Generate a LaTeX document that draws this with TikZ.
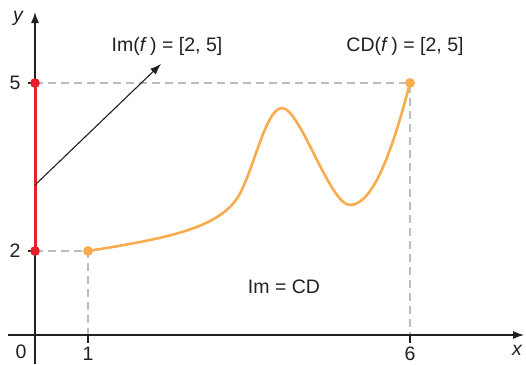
\documentclass[tikz,border=0pt]{standalone}
\usepackage{fontspec}
\setmainfont{Liberation Sans}
\usetikzlibrary{arrows.meta}
\definecolor{curveorange}{HTML}{F9AC4E}
\definecolor{segred}{HTML}{E5202A}
\definecolor{dashgray}{HTML}{BDBDBD}
\definecolor{txt}{HTML}{231F20}
\begin{document}
\begin{tikzpicture}[x=1pt,y=-1pt,
  axis/.style={line width=1.3pt,txt,-{Latex[length=11pt,width=8pt]}},
  guide/.style={dashgray,line width=1.3pt,dash pattern=on 8pt off 5pt},
  lbl/.style={font=\fontsize{19.5}{22}\selectfont,text=txt,inner sep=0pt},
  dotred/.style={circle,fill=segred,minimum size=9.5pt,inner sep=0pt},
  dotorange/.style={circle,fill=curveorange,minimum size=9.5pt,inner sep=0pt}]
\useasboundingbox (0,0) rectangle (526,364);
% coordinates
\coordinate (O) at (35,335);
\coordinate (ytop) at (35,12);
\coordinate (ybot) at (35,364);
\coordinate (xleft) at (8,335);
\coordinate (xright) at (524,335);
\node[dotred] (p5) at (35,83) {};
\node[dotred] (p2) at (35,251) {};
\node[dotorange] (q1) at (88,251) {};
\node[dotorange] (q6) at (410,83) {};
\coordinate (x1) at (88,335);
\coordinate (x6) at (410,335);
% guides
\draw[guide] (p5.center) -- (q6.center) -- (x6);
\draw[guide] (p2.center) -- (q1.center) -- (x1);
% axes
\draw[line width=1.3pt,txt] (ybot) -- (O);
\draw[axis] (O) -- (ytop);
\draw[axis] (xleft) -- (xright);
% ticks
\draw[line width=1.3pt,txt] (x1) -- ++(0,8);
\draw[line width=1.3pt,txt] (x6) -- ++(0,8);
\draw[line width=1.3pt,txt] (p5.center) -- ++(-7,0);
\draw[line width=1.3pt,txt] (p2.center) -- ++(-7,0);
% red segment
\draw[segred,line width=3pt] (p5.center) -- (p2.center);
\node[dotred] at (p5) {};
\node[dotred] at (p2) {};
% curve
\draw[curveorange,line width=2.6pt,line cap=round]
  (q1.center) .. controls (170,238) and (215,228) .. (236,200)
  .. controls (252,178) and (265,108) .. (282,108)
  .. controls (300,108) and (330,205) .. (350,205)
  .. controls (375,205) and (395,140) .. (q6.center);
\node[dotorange] at (q1) {};
\node[dotorange] at (q6) {};
% arrow
\coordinate (astart) at (35,185);
\coordinate (aend) at (161,64);
\draw[line width=1.1pt,txt,-{Latex[length=11pt,width=8pt]}] (astart) -- (aend);
% labels
\node[lbl] (ylab) at (18,18) {\itshape y};
\node[lbl] (xlab) at (517,350) {\itshape x};
\node[lbl] (l0) at (21,352) {0};
\node[lbl] (l1) at (88,354) {1};
\node[lbl] (l6) at (410,354) {6};
\node[lbl] (l5) at (15,83) {5};
\node[lbl] (l2) at (15,251) {2};
\node[lbl] (imlab) at (167,46) {Im(\textit{f}\,) = [2, 5]};
\node[lbl] (cdlab) at (405,46) {CD(\textit{f}\,) = [2, 5]};
\node[lbl] (eqlab) at (284,287) {Im = CD};
\end{tikzpicture}
\end{document}
